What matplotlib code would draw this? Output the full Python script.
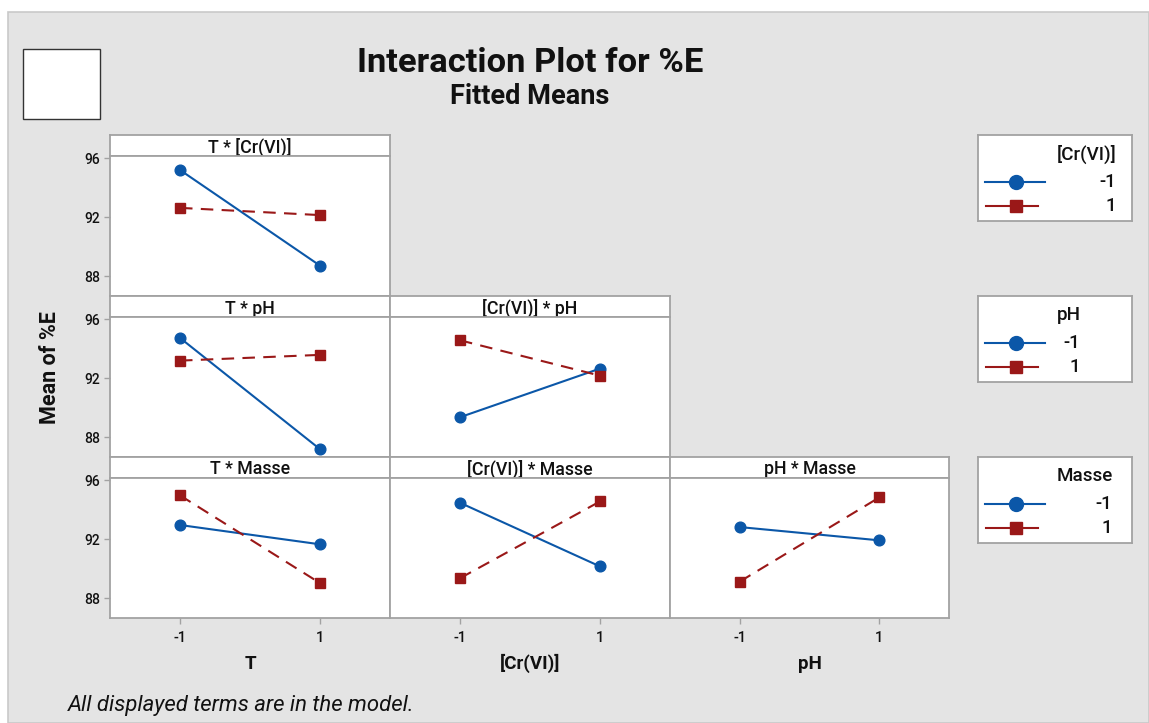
import matplotlib
matplotlib.use("Agg")
import matplotlib.pyplot as plt
from matplotlib.patches import Rectangle

plt.rcParams['font.family'] = ['Roboto', 'DejaVu Sans']
plt.rcParams['lines.scale_dashes'] = False

W, H = 1149, 723

# factor levels and fitted means
levels = [-1, 1]
col_factors = ["T", "[Cr(VI)]", "pH"]
row_factors = ["[Cr(VI)]", "pH", "Masse"]

t_cr_low = [95.20, 88.71]
t_cr_high = [92.63, 92.14]
t_ph_low = [94.73, 87.18]
t_ph_high = [93.19, 93.58]
cr_ph_low = [89.35, 92.65]
cr_ph_high = [94.57, 92.17]
t_masse_low = [92.96, 91.65]
t_masse_high = [94.97, 89.02]
cr_masse_low = [94.47, 90.15]
cr_masse_high = [89.35, 94.56]
ph_masse_low = [92.82, 91.92]
ph_masse_high = [89.12, 94.83]

y_ticks = [88, 92, 96]

panels = {
    (0, 0): (t_cr_low, t_cr_high),
    (1, 0): (t_ph_low, t_ph_high),
    (1, 1): (cr_ph_low, cr_ph_high),
    (2, 0): (t_masse_low, t_masse_high),
    (2, 1): (cr_masse_low, cr_masse_high),
    (2, 2): (ph_masse_low, ph_masse_high),
}

BLUE = "#0b57a8"
RED = "#9a1818"
GRID = "#a2a2a2"
BG = "#e4e4e4"
INK = "#111111"


def box(x0, y0, x1, y1):
    return [x0 / W, 1 - y1 / H, (x1 - x0) / W, (y1 - y0) / H]


def fx(x):
    return x / W


def fy(y):
    return 1 - y / H


fig = plt.figure(figsize=(W / 100, H / 100), dpi=100)
fig.patch.set_facecolor("white")
fig.add_artist(Rectangle((fx(8), 0), 1 - fx(8), fy(12), transform=fig.transFigure,
                         facecolor=BG, edgecolor="#c9c9c9", lw=1.2, zorder=-10))
fig.add_artist(Rectangle((fx(23), fy(119)), 77 / W, 70 / H, transform=fig.transFigure,
                         facecolor="white", edgecolor="#333333", lw=1.0, zorder=-5))

fig.text(fx(530), fy(71.5), "Interaction Plot for %E", ha="center", va="baseline",
         fontsize=24.8, fontweight="bold", color=INK)
fig.text(fx(530), fy(104), "Fitted Means", ha="center", va="baseline",
         fontsize=19.5, fontweight="bold", color=INK)

col_x = [110, 390, 670, 949]
row_top = [135, 296, 457]
HDR = 21
DATA = 140

for (r, c), (low, high) in panels.items():
    top = row_top[r]
    x0, x1 = col_x[c], col_x[c + 1]
    hax = fig.add_axes(box(x0, top, x1, top + HDR))
    hax.set_facecolor("white")
    hax.set_xlim(0, 1)
    hax.set_ylim(HDR, 0)
    hax.set_xticks([])
    hax.set_yticks([])
    for s in hax.spines.values():
        s.set_color(GRID)
        s.set_linewidth(1.3)
    hax.text(0.5, 17.5, f"{col_factors[c]} * {row_factors[r]}", ha="center", va="baseline",
             fontsize=12.8, fontweight="medium", color=INK)

    ax = fig.add_axes(box(x0, top + HDR, x1, top + HDR + DATA))
    ax.set_facecolor("white")
    ax.set_xlim(-2, 2)
    ax.set_ylim(86.65, 96.15)
    for s in ax.spines.values():
        s.set_color(GRID)
        s.set_linewidth(1.3)
    ax.plot(levels, low, color=BLUE, lw=1.5, marker="o", ms=7.7, mec=BLUE, mfc=BLUE, zorder=3)
    ax.plot(levels, high, color=RED, lw=1.5, dashes=(9, 6), marker="s", ms=6.8,
            mec=RED, mfc=RED, zorder=3)
    ax.tick_params(colors=GRID, labelcolor=INK, direction="out", length=4, width=1)
    if c == 0:
        ax.set_yticks(y_ticks)
        ax.set_yticklabels([str(v) for v in y_ticks], fontsize=10, fontweight="medium")
        ax.tick_params(axis="y", pad=3)
    else:
        ax.set_yticks([])
    if r == 2:
        ax.set_xticks(levels)
        ax.set_xticklabels([str(v) for v in levels], fontsize=10.5, fontweight="medium")
        ax.tick_params(axis="x", pad=5)
        fig.text(fx((x0 + x1) / 2), fy(669), col_factors[c], ha="center", va="baseline",
                 fontsize=13.5, fontweight="bold", color=INK)
    else:
        ax.set_xticks([])

fig.text(fx(50), fy(368), "Mean of %E", rotation=90, ha="center", va="center",
         fontsize=15.5, fontweight="bold", color=INK)

fig.text(fx(68), fy(711), "All displayed terms are in the model.", ha="left",
         va="baseline", fontsize=15.9, style="italic", color=INK)

# legends, one per trace factor
renderer = fig.canvas.get_renderer()
for r, name in enumerate(row_factors):
    top = row_top[r]
    lax = fig.add_axes(box(978, top, 1132, top + 86))
    lax.set_xlim(978, 1132)
    lax.set_ylim(top + 86, top)
    lax.set_xticks([])
    lax.set_yticks([])
    lax.set_facecolor("white")
    for s in lax.spines.values():
        s.set_color(GRID)
        s.set_linewidth(1.3)
    ttl = lax.text(1057, top + 19, name, ha="left", va="center", fontsize=13.5,
                   fontweight="medium", color=INK)
    bb = ttl.get_window_extent(renderer=renderer)
    right_data = lax.transData.inverted().transform((bb.x1, 0))[0]
    lax.plot([985, 1016, 1045], [top + 47] * 3, color=BLUE, lw=1.5, marker="o", ms=10,
             markevery=[1])
    lax.plot([986, 1016, 1038], [top + 71] * 3, color=RED, lw=1.5, marker="s", ms=9.3,
             markevery=[1])
    lax.text(right_data - 1, top + 47, "-1", ha="right", va="center", fontsize=13.5,
             fontweight="medium", color=INK)
    lax.text(right_data - 1, top + 71, "1", ha="right", va="center", fontsize=13.5,
             fontweight="medium", color=INK)

fig.savefig("out.png", dpi=100, facecolor=fig.get_facecolor())
